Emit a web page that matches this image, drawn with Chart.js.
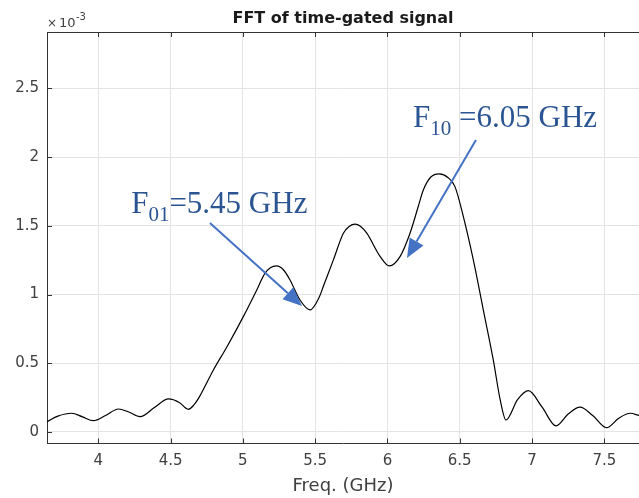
<!DOCTYPE html>
<html>
<head>
<meta charset="utf-8">
<script src="https://cdn.jsdelivr.net/npm/chart.js@4"></script>
<style>
    html, body { margin: 0; padding: 0; background: #fff; }
    #chart { display: block; }
</style>
</head>
<body>
<canvas id="chart" width="639" height="498"></canvas>
<script>
// data (magnitude in units of 1e-3)
const freqGHz = [3.645, 3.72, 3.816, 3.89, 3.966, 4.05, 4.139, 4.21, 4.289, 4.39, 4.485, 4.56, 4.623,
    4.66, 4.70, 4.796, 4.89, 5.003, 5.096, 5.15, 5.19, 5.234, 5.28, 5.326, 5.395, 5.465, 5.53, 5.556, 5.626,
    5.695, 5.735, 5.776, 5.815, 5.857, 5.95, 6.013, 6.087, 6.156, 6.213, 6.248, 6.30, 6.359, 6.42, 6.467,
    6.525, 6.594, 6.663, 6.732, 6.78, 6.82, 6.90, 6.975, 7.07, 7.166, 7.25, 7.332, 7.42, 7.516, 7.60,
    7.68, 7.74];
const magnitude = [0.075, 0.115, 0.136, 0.11, 0.082, 0.12, 0.167, 0.145, 0.111, 0.18, 0.240, 0.215, 0.165,
    0.195, 0.257, 0.451, 0.62, 0.839, 1.033, 1.15, 1.195, 1.208, 1.180, 1.106, 0.96, 0.888, 0.985, 1.058, 1.252,
    1.446, 1.495, 1.512, 1.495, 1.446, 1.276, 1.208, 1.276, 1.446, 1.64, 1.76, 1.855, 1.878, 1.850, 1.785,
    1.567, 1.252, 0.888, 0.524, 0.233, 0.087, 0.235, 0.30, 0.18, 0.044, 0.13, 0.18, 0.12, 0.031, 0.10,
    0.136, 0.12];

const xTicks = [4, 4.5, 5, 5.5, 6, 6.5, 7, 7.5];
const yTicks = [0, 0.5, 1, 1.5, 2, 2.5];

// annotations, in data units: [text x, text y, tail x, tail y, tip x, tip y]
const noteF01 = [4.227, 1.59, 4.772, 1.521, 5.409, 0.917];
const noteF10 = [6.177, 2.22, 6.612, 2.125, 6.135, 1.266];

const AXIS = '#333333';
const LABEL = '#404040';
const NOTE_TEXT = '#2b5592';
const NOTE_ARROW = '#4472c4';
const SANS = '"DejaVu Sans", Verdana, sans-serif';

function drawArrow(ctx, x0, y0, x1, y1) {
    let a = Math.atan2(y1 - y0, x1 - x0);
    let len = 19, half = 8;
    let bx = x1 - len * Math.cos(a), by = y1 - len * Math.sin(a);
    ctx.strokeStyle = NOTE_ARROW;
    ctx.fillStyle = NOTE_ARROW;
    ctx.lineWidth = 2;
    ctx.beginPath();
    ctx.moveTo(x0, y0);
    ctx.lineTo(bx, by);
    ctx.stroke();
    ctx.beginPath();
    ctx.moveTo(x1, y1);
    ctx.lineTo(bx + half * Math.sin(a), by - half * Math.cos(a));
    ctx.lineTo(bx - half * Math.sin(a), by + half * Math.cos(a));
    ctx.closePath();
    ctx.fill();
}

// "F" + subscript + rest
function drawLabel(ctx, x, y, sub, rest) {
    let big = '31px "Liberation Serif", "Times New Roman", serif';
    let small = '21px "Liberation Serif", "Times New Roman", serif';
    ctx.fillStyle = NOTE_TEXT;
    ctx.textAlign = 'left';
    ctx.textBaseline = 'alphabetic';
    ctx.font = big;
    ctx.fillText('F', x, y);
    x += ctx.measureText('F').width;
    ctx.font = small;
    ctx.fillText(sub, x, y + 8);
    x += ctx.measureText(sub).width;
    ctx.font = big;
    ctx.fillText(rest, x, y);
}

const decor = {
    id: 'decor',
    afterDraw(chart) {
        let ctx = chart.ctx;
        let a = chart.chartArea;
        let xs = chart.scales.x, ys = chart.scales.y;
        ctx.save();

        // top box line + inward ticks
        ctx.strokeStyle = AXIS;
        ctx.lineWidth = 1;
        ctx.beginPath();
        ctx.moveTo(a.left, a.top + 0.5);
        ctx.lineTo(a.right, a.top + 0.5);
        xTicks.forEach((v) => {
            let px = Math.round(xs.getPixelForValue(v)) + 0.5;
            ctx.moveTo(px, a.top);
            ctx.lineTo(px, a.top + 5);
            ctx.moveTo(px, a.bottom);
            ctx.lineTo(px, a.bottom - 5);
        });
        yTicks.forEach((v) => {
            let py = Math.round(ys.getPixelForValue(v)) + 0.5;
            ctx.moveTo(a.left, py);
            ctx.lineTo(a.left + 5, py);
        });
        ctx.stroke();

        // exponent label
        ctx.fillStyle = LABEL;
        ctx.textBaseline = 'alphabetic';
        ctx.textAlign = 'left';
        ctx.font = '12px ' + SANS;
        ctx.fillText('\u00d7', 47, 27);
        ctx.font = '13px ' + SANS;
        ctx.fillText('10', 59, 27);
        ctx.font = '10px ' + SANS;
        ctx.fillText('-3', 76, 20);

        // annotations
        [[noteF01, '01', '=5.45 GHz'], [noteF10, '10', ' =6.05 GHz']].forEach(([n, sub, rest]) => {
            drawArrow(ctx, xs.getPixelForValue(n[2]), ys.getPixelForValue(n[3]),
                xs.getPixelForValue(n[4]), ys.getPixelForValue(n[5]));
            drawLabel(ctx, xs.getPixelForValue(n[0]), ys.getPixelForValue(n[1]), sub, rest);
        });

        ctx.restore();
    }
};

const points = freqGHz.map((f, i) => ({x: f, y: magnitude[i]}));
const tickFont = {family: SANS, size: 15};

new Chart(document.getElementById('chart'), {
    type: 'scatter',
    data: {
        datasets: [{
            data: points,
            showLine: true,
            borderColor: '#000',
            borderWidth: 1.2,
            pointRadius: 0,
            cubicInterpolationMode: 'monotone',
            fill: false
        }]
    },
    options: {
        responsive: false,
        animation: false,
        events: [],
        layout: {padding: {left: 0, right: 0, top: 0, bottom: 0}},
        plugins: {
            legend: {display: false},
            tooltip: {enabled: false},
            title: {
                display: true,
                text: 'FFT of time-gated signal',
                fullSize: false,
                color: '#1a1a1a',
                font: {family: SANS, size: 16, weight: 'bold'},
                padding: {top: 9.4, bottom: 3.4}
            }
        },
        scales: {
            x: {
                type: 'linear',
                min: 3.645,
                max: 7.74,
                afterBuildTicks: (s) => { s.ticks = xTicks.map((v) => ({value: v})); },
                afterFit: (s) => { s.height = 54.5; },
                ticks: {
                    color: LABEL,
                    font: tickFont,
                    padding: 9,
                    maxRotation: 0,
                    callback: (v) => String(v)
                },
                grid: {color: '#e3e3e3', lineWidth: 1, drawTicks: false},
                border: {display: true, color: AXIS, width: 1},
                title: {
                    display: true,
                    text: 'Freq. (GHz)',
                    color: LABEL,
                    font: {family: SANS, size: 18},
                    padding: {top: 0, bottom: 1}
                }
            },
            y: {
                type: 'linear',
                min: -0.084,
                max: 2.91,
                afterBuildTicks: (s) => { s.ticks = yTicks.map((v) => ({value: v})); },
                afterFit: (s) => { s.width = 47; },
                ticks: {
                    color: LABEL,
                    font: tickFont,
                    padding: 8,
                    callback: (v) => String(v)
                },
                grid: {color: '#e3e3e3', lineWidth: 1, drawTicks: false},
                border: {display: true, color: AXIS, width: 1}
            }
        }
    },
    plugins: [decor]
});
</script>
</body>
</html>
